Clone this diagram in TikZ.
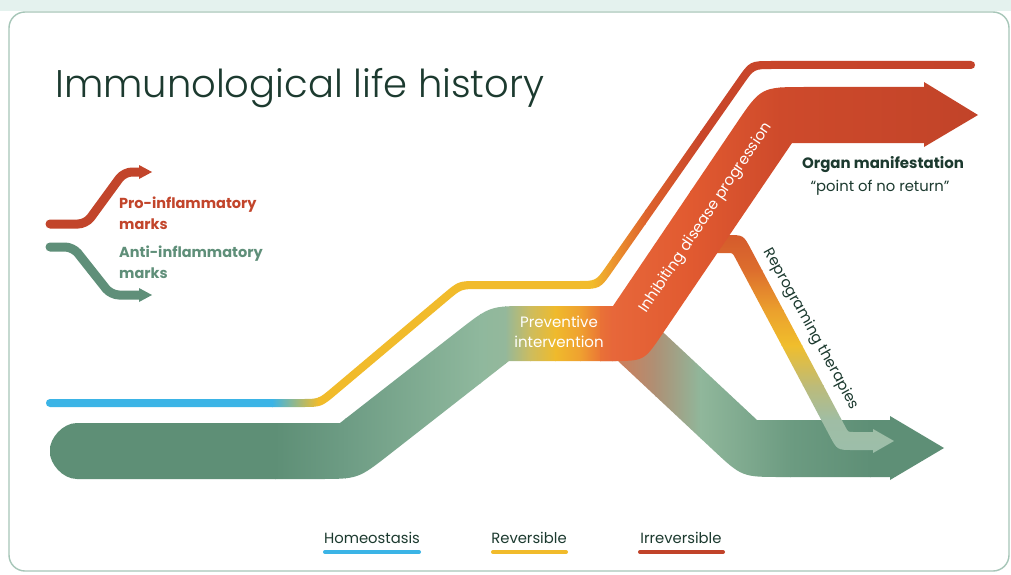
\documentclass[tikz,border=0pt]{standalone}
\usepackage{fontspec}
\setmainfont{Poppins}
\newfontfamily\titlefont{Poppins Light}
\usetikzlibrary{calc}

\definecolor{mint}{HTML}{E4F2EE}
\definecolor{framec}{HTML}{A6C6B8}
\definecolor{ink}{HTML}{1C3A2F}
\definecolor{gdark}{HTML}{5E8F76}
\definecolor{ylw}{HTML}{F1BB2B}
\definecolor{redc}{HTML}{C1432A}
\definecolor{bluec}{HTML}{3BB4E6}
\definecolor{legred}{HTML}{C2452B}
\definecolor{leggreen}{HTML}{5F8F79}

% piecewise-linear colour ramps, drawn inside a clipped outline
\newcommand{\hramp}[4]{%
  \definecolor{rampL}{HTML}{#3}\definecolor{rampR}{HTML}{#4}%
  \shade[left color=rampL,right color=rampR] (#1,0) rectangle ({#2+0.8},575);}
\newcommand{\vramp}[4]{%
  \definecolor{rampT}{HTML}{#3}\definecolor{rampB}{HTML}{#4}%
  \shade[top color=rampT,bottom color=rampB] (0,#1) rectangle (1011,{#2+0.8});}

\begin{document}
\begin{tikzpicture}[x=1pt,y=-1pt,
  lbl/.style={inner sep=0pt, text=ink, font=\fontsize{14.8}{17}\selectfont},
  boldlbl/.style={inner sep=0pt, font=\bfseries\fontsize{14.5}{17}\selectfont},
  inband/.style={inner sep=0pt, text=white, font=\fontsize{15}{17}\selectfont},
  markline/.style={line width=9pt, line cap=round, rounded corners=8pt},
  legbar/.style={line width=4pt, line cap=round}]

\useasboundingbox (0,0) rectangle (1011,575);
\fill[white] (0,0) rectangle (1011,575);
\fill[mint] (0,0) rectangle (1011,11);
\draw[framec, line width=1.4pt, fill=white, rounded corners=16pt] (9,12) rectangle (1009,571);

% ---------- title ----------
\node[inner sep=0pt, anchor=base west, text=ink, font=\titlefont\fontsize{38.5}{42}\selectfont]
  (title) at (55,98) {Immunological life history};

% ---------- small key: pro / anti-inflammatory ----------
\draw[markline, legred] (50,224) -- (86,224) -- (124,172) -- (141,172);
\fill[legred] (139,165) -- (152,172) -- (139,179) -- cycle;
\draw[markline, leggreen] (50,247) -- (73,247) -- (111,295) -- (141,295);
\fill[leggreen] (139,288) -- (152,295) -- (139,302) -- cycle;

\node[boldlbl, text=legred, anchor=base west] (pro) at (119,208) {Pro-inflammatory};
\node[boldlbl, text=legred, anchor=base west] (prom) at (119,229) {marks};
\node[boldlbl, text=leggreen, anchor=base west] (anti) at (119,257) {Anti-inflammatory};
\node[boldlbl, text=leggreen, anchor=base west] (antim) at (119,278) {marks};

% ---------- thin state line: homeostasis -> reversible -> irreversible ----------
\coordinate (du0) at (50,399);
\coordinate (du1) at (318.5,399);
\coordinate (du2) at (458.5,281);
\coordinate (du3) at (595.9,281);
\coordinate (du4) at (749.9,61);
\coordinate (du5) at (971,61);
\coordinate (dl5) at (971,69);
\coordinate (dl4) at (754.1,69);
\coordinate (dl3) at (600.1,289);
\coordinate (dl2) at (461.5,289);
\coordinate (dl1) at (321.5,407);
\coordinate (dl0) at (50,407);
\begin{scope}
\clip (du0) -- ($(du1)!17pt!(du0)$) .. controls (du1) .. ($(du1)!17pt!(du2)$)
  -- ($(du2)!20pt!(du1)$) .. controls (du2) .. ($(du2)!20pt!(du3)$)
  -- ($(du3)!18pt!(du2)$) .. controls (du3) .. ($(du3)!18pt!(du4)$)
  -- ($(du4)!22pt!(du3)$) .. controls (du4) .. ($(du4)!22pt!(du5)$)
  -- (du5) .. controls +(5.33,0) and +(5.33,0) .. (dl5)
  -- ($(dl4)!18pt!(dl5)$) .. controls (dl4) .. ($(dl4)!18pt!(dl3)$)
  -- ($(dl3)!22pt!(dl4)$) .. controls (dl3) .. ($(dl3)!22pt!(dl2)$)
  -- ($(dl2)!17pt!(dl3)$) .. controls (dl2) .. ($(dl2)!17pt!(dl1)$)
  -- ($(dl1)!20pt!(dl2)$) .. controls (dl1) .. ($(dl1)!20pt!(dl0)$)
  -- (dl0) .. controls +(-5.33,0) and +(-5.33,0) .. (du0) -- cycle;
\hramp{0}{272}{3BB4E6}{3BB4E6}
\hramp{272}{318}{3BB4E6}{F1BB2B}
\hramp{318}{592}{F1BB2B}{F1BB2B}
\hramp{592}{612}{F1BB2B}{EC962E}
\hramp{612}{645}{EC962E}{DE632C}
\hramp{645}{700}{DE632C}{C9462A}
\hramp{700}{1011}{C9462A}{C3432A}
\end{scope}

% ---------- lower trunk (green) ----------
\coordinate (a1) at (50,423);
\coordinate (a2) at (340,423);
\coordinate (a3) at (490,306);
\coordinate (a4) at (635,306);
\coordinate (a5) at (757,420);
\coordinate (a6) at (890,420);
\coordinate (a7) at (890,416);
\coordinate (a8) at (944,448);
\coordinate (a9) at (890,480);
\coordinate (a10) at (890,477);
\coordinate (a11) at (742,477);
\coordinate (a12) at (618,361);
\coordinate (a13) at (509,361);
\coordinate (a14) at (358,479);
\coordinate (a15) at (50,479);
\begin{scope}
\clip ($(a1)!27pt!(a2)$) -- (a2)
  -- ($(a3)!40pt!(a2)$) .. controls (a3) .. ($(a3)!40pt!(a4)$)
  -- (a4) -- (a5) -- (a6) -- (a7) -- (a8) -- (a9) -- (a10)
  -- ($(a11)!40pt!(a10)$) .. controls (a11) .. ($(a11)!40pt!(a12)$)
  -- (a12) -- (a13)
  -- ($(a14)!40pt!(a13)$) .. controls (a14) .. ($(a14)!40pt!(a15)$)
  -- ($(a15)!27pt!(a14)$) .. controls +(-15,0) and +(0,10) .. ($(a15)!26pt!(a1)$)
  -- ($(a1)!26pt!(a15)$) .. controls +(0,-10) and +(-15,0) .. ($(a1)!27pt!(a2)$) -- cycle;
\hramp{0}{275}{5E8F76}{5E8F76}
\hramp{275}{345}{5E8F76}{6D9C84}
\hramp{345}{480}{6D9C84}{8FB89D}
\hramp{480}{505}{8FB89D}{94B89B}
\hramp{505}{530}{94B89B}{CDBC5E}
\hramp{530}{555}{CDBC5E}{EFBA2C}
\hramp{555}{580}{EFBA2C}{EFA030}
\hramp{580}{600}{EFA030}{EA7535}
\hramp{600}{622}{EA7535}{C9805E}
\hramp{622}{655}{C9805E}{AE9075}
\hramp{655}{700}{AE9075}{90B79B}
\hramp{700}{790}{90B79B}{6C9B81}
\hramp{790}{870}{6C9B81}{5E8F76}
\hramp{870}{1011}{5E8F76}{5E8F76}
\end{scope}

% ---------- reprogramming branch ----------
\coordinate (c0) at (712,235);
\coordinate (c1) at (743.4,235);
\coordinate (c2) at (848.1,432);
\coordinate (c3) at (873,432);
\coordinate (c4) at (873,429);
\coordinate (c5) at (894,441);
\coordinate (c6) at (873,453);
\coordinate (c7) at (873,450);
\coordinate (c8) at (837.2,450);
\coordinate (c9) at (732.6,253);
\coordinate (c10) at (712,253);
\begin{scope}
\clip (c0) -- ($(c1)!16pt!(c0)$) .. controls (c1) .. ($(c1)!16pt!(c2)$)
  -- ($(c2)!5pt!(c1)$) .. controls (c2) .. ($(c2)!5pt!(c3)$)
  -- (c3) -- (c4) -- (c5) -- (c6) -- (c7)
  -- ($(c8)!16pt!(c7)$) .. controls (c8) .. ($(c8)!16pt!(c9)$)
  -- ($(c9)!5pt!(c8)$) .. controls (c9) .. ($(c9)!5pt!(c10)$)
  -- (c10) -- cycle;
\vramp{225}{270}{D2552C}{DD6E2D}
\vramp{270}{310}{DD6E2D}{EBA02D}
\vramp{310}{345}{EBA02D}{F0BE2C}
\vramp{345}{385}{F0BE2C}{BDBB78}
\vramp{385}{420}{BDBB78}{9FBDA5}
\vramp{420}{460}{9FBDA5}{9CBFAB}
\end{scope}

% ---------- upper branch (progression, orange-red) ----------
\coordinate (b1) at (600,306);
\coordinate (b2) at (613,306);
\coordinate (b3) at (761,87);
\coordinate (b4) at (924,87);
\coordinate (b5) at (924,82);
\coordinate (b6) at (978,115);
\coordinate (b7) at (924,147);
\coordinate (b8) at (924,143);
\coordinate (b9) at (792,143);
\coordinate (b10) at (644,361);
\coordinate (b11) at (600,361);
\begin{scope}
\clip (b1) -- (b2)
  -- ($(b3)!45pt!(b2)$) .. controls (b3) .. ($(b3)!45pt!(b4)$)
  -- (b4) -- (b5) -- (b6) -- (b7) -- (b8) -- (b9)
  -- ($(b10)!32pt!(b9)$) .. controls (b10) .. ($(b10)!32pt!(b11)$)
  -- (b11) -- cycle;
\hramp{595}{612}{EA7535}{E7673A}
\hramp{612}{690}{E7673A}{E15A30}
\hramp{690}{780}{E15A30}{CE4A2B}
\hramp{780}{1011}{CE4A2B}{BF4228}
\end{scope}

% ---------- labels on the bands ----------
\node[inband, anchor=base] (prev1) at (559,327) {Preventive};
\node[inband, anchor=base] (prev2) at (559,347) {intervention};
\node[inband, rotate=56] (inhib) at (706,218) {Inhibiting disease progression};
\node[lbl, rotate=-61] (reprog) at (811,329) {Reprograming therapies};

\node[boldlbl, text=ink, anchor=base, font=\bfseries\fontsize{15}{17}\selectfont] (organ) at (883,168) {Organ manifestation};
\node[lbl, anchor=base] (ponr) at (880,191) {“point of no return”};

% ---------- bottom key ----------
\node[lbl, anchor=base] (homeo) at (372,543) {Homeostasis};
\node[lbl, anchor=base] (rev) at (529,543) {Reversible};
\node[lbl, anchor=base] (irrev) at (681,543) {Irreversible};
\draw[legbar, bluec] (325,552) -- (419,552);
\draw[legbar, ylw] (493,552) -- (566,552);
\draw[legbar, redc] (640,552) -- (723,552);

\end{tikzpicture}
\end{document}
